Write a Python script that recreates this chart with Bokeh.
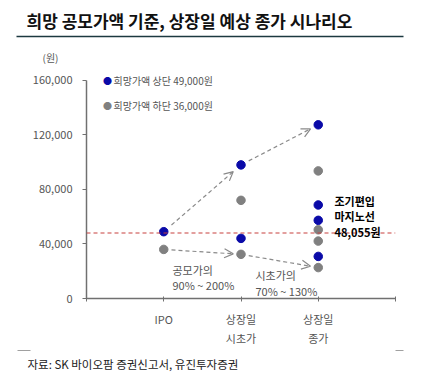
from bokeh.plotting import figure
from bokeh.layouts import column
from bokeh.models import (Label, Span, Arrow, OpenHead, FixedTicker, NumeralTickFormatter)
from bokeh.embed import file_html
from bokeh.resources import INLINE

FONT = "Noto Sans CJK KR"

# ---- data ----
categories = ["IPO", "상장일\n시초가", "상장일\n종가"]
cat_pos = [1, 2, 3]
upper_x = [1, 2, 2, 3, 3, 3, 3]
upper_y = [49000, 98000, 44100, 127400, 68600, 57330, 30870]
lower_x = [1, 2, 2, 3, 3, 3, 3]
lower_y = [36000, 72000, 32400, 93600, 50400, 42120, 22680]
threshold = 48055
y_ticks = [0, 40000, 80000, 120000, 160000]
y_max = 160000
# arrows: (series, from index, to index)
arrow_links = [("upper", 0, 1), ("upper", 1, 3), ("lower", 0, 2), ("lower", 2, 6)]

title_text = "희망 공모가액 기준, 상장일 예상 종가 시나리오"
legend_upper = "희망가액 상단 49,000원"
legend_lower = "희망가액 하단 36,000원"
unit_text = "(원)"
note_lines = ["조기편입", "마지노선", "48,055원"]
range1 = ["공모가의", "90% ~ 200%"]
range2 = ["시초가의", "70% ~ 130%"]
source_text = "자료: SK 바이오팜 증권신고서, 유진투자증권"

BLUE = "#0a0aa8"
GRAY = "#808080"
TXT = "#555555"
W = 436


def bare(h):
    f = figure(width=W, height=h, x_range=(0, W), y_range=(h, 0),
               output_backend="svg", toolbar_location=None,
               x_axis_type=None, y_axis_type=None, min_border=0, frame_align=False)
    f.grid.visible = False
    f.outline_line_color = None
    f.title.visible = False
    return f


def lab(fig, text, x, y, size="11px", color=TXT, style="normal", align="left",
        units="data"):
    fig.add_layout(Label(text=text, x=x, y=y, x_units=units, y_units=units,
                         text_font=FONT, text_font_size=size, text_color=color,
                         text_font_style=style, text_align=align, text_baseline="middle"))


# ---- header ----
top_h = 70
top = bare(top_h)
lab(top, title_text, 26, 20, size="17px", color="#111111", style="bold")
top.segment(x0=[16], y0=[36], x1=[403], y1=[36], line_color="#1c3940", line_width=1.6)
lab(top, unit_text, 50, 57, size="10px", align="center")

# ---- main chart ----
main_h = 278
frame_top, frame_bottom = 0, 231      # relative to main figure canvas
tick_top = 10                          # where 160,000 sits
y_top = y_max * (frame_bottom - frame_top) / (frame_bottom - tick_top)

p = figure(width=W, height=main_h, x_range=(0, 4), y_range=(0, y_top),
           output_backend="svg", toolbar_location=None, frame_align=False,
           min_border_left=86, min_border_right=41, min_border_top=0,
           min_border_bottom=main_h - frame_bottom)
p.title.visible = False
p.grid.visible = False
p.outline_line_color = None

yax = p.yaxis[0]
yax.ticker = FixedTicker(ticks=y_ticks)
yax.bounds = (0, y_max)
yax.formatter = NumeralTickFormatter(format="0,0")
yax.major_tick_in = 0
yax.major_tick_out = 4
yax.minor_tick_line_color = None
yax.axis_line_color = "#707070"
yax.axis_line_width = 1.5
yax.major_tick_line_color = "#707070"
yax.major_label_text_font = FONT
yax.major_label_text_font_size = "11px"
yax.major_label_text_color = TXT
yax.major_label_standoff = 10

xax = p.xaxis[0]
xax.ticker = FixedTicker(ticks=[0] + cat_pos + [4])
xax.major_label_overrides = {0: "", 4: "", **{c: l for c, l in zip(cat_pos, categories)}}
xax.major_tick_in = 2
xax.major_tick_out = 3
xax.minor_tick_line_color = None
xax.axis_line_color = "#707070"
xax.axis_line_width = 1.5
xax.major_tick_line_color = "#707070"
xax.major_label_text_font = FONT
xax.major_label_text_font_size = "11px"
xax.major_label_text_color = TXT
xax.major_label_standoff = 9

p.add_layout(Span(location=threshold, dimension="width", line_color="#c8413f",
                  line_dash="4 3", line_width=1.2))

series = {"upper": (upper_x, upper_y), "lower": (lower_x, lower_y)}
for s, i, j in arrow_links:
    xs, ys = series[s]
    x0, y0, x1, y1 = xs[i], ys[i], xs[j], ys[j]
    f0, f1 = 0.1, 0.9
    p.add_layout(Arrow(end=OpenHead(size=9, line_color="#8a8a8a", line_width=1.2),
                       x_start=x0 + f0 * (x1 - x0), y_start=y0 + f0 * (y1 - y0),
                       x_end=x0 + f1 * (x1 - x0), y_end=y0 + f1 * (y1 - y0),
                       line_color="#8a8a8a", line_width=1.2, line_dash="4 3"))

p.scatter(upper_x, upper_y, size=8.5, fill_color=BLUE, line_color=BLUE)
p.scatter(lower_x, lower_y, size=8.5, fill_color=GRAY, line_color=GRAY)

off = top_h  # page y -> canvas y of main figure
lab(p, "●", 107, 80 - off, size="9px", color=BLUE, align="center", units="canvas")
lab(p, legend_upper, 113, 80 - off, size="10px", units="canvas")
lab(p, "●", 107, 105 - off, size="9px", color=GRAY, align="center", units="canvas")
lab(p, legend_lower, 113, 105 - off, size="10px", units="canvas")

for k, t in enumerate(note_lines):
    lab(p, t, 334, 200 - off + 15.5 * k, color="#000000", style="bold", units="canvas")
for k, t in enumerate(range1):
    lab(p, t, 172, 269 - off + 15 * k, units="canvas")
for k, t in enumerate(range2):
    lab(p, t, 255, 274 - off + 16 * k, units="canvas")

# ---- footer ----
bot_h = 390 - top_h - main_h
bot = bare(bot_h)
bot.segment(x0=[17, 395], y0=[2, 2], x1=[30, 403], y1=[2, 2], line_color="#a0a0a0", line_width=1)
lab(bot, source_text, 27, 15, size="11.5px", color="#222222")

layout = column(top, p, bot, spacing=0)
open("out.html", "w").write(file_html(layout, INLINE))
